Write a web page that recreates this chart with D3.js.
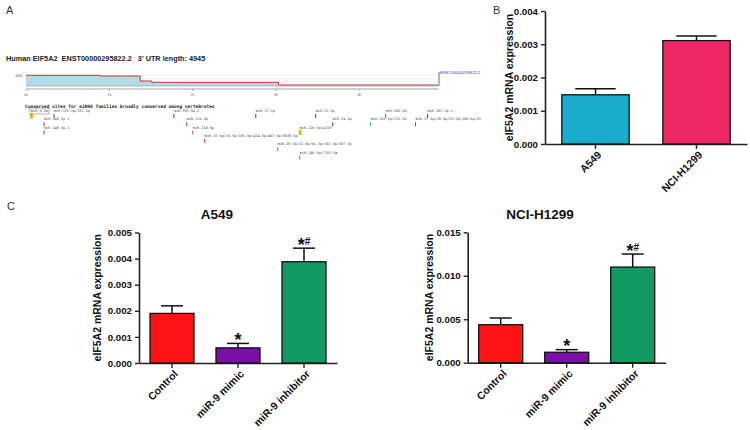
<!DOCTYPE html>
<html><head><meta charset="utf-8">
<script src="https://cdn.jsdelivr.net/npm/d3@7"></script>
<style>body{margin:0;background:#fff}svg{display:block}text{font-family:Arial,"Liberation Sans",sans-serif}</style>
</head><body><svg id="c" width="750" height="430"></svg>
<script>
// ---------- Panel A data (TargetScan-style 3'UTR view) ----------
const utrLength = 4945;
const utrPos = [0, 890, 1370, 1510, 3030, 4945];
const utrDepth = [443, 414, 207, 153, 41, 41];
const gridDepth = [443, 300, 150];
const utrTicks = [0, 1000, 2000, 3000, 4000];
const utrTickLabels = ["0k", "1k", "2k", "3k", "4k"];
const siteNames = ["miR-9-5p","miR-221-3p/222-3p","miR-140-3p.2","miR-140-3p.1","miR-383-5p.2","miR-216-5p","miR-218-5p","miR-15-5p/16-5p/195-5p/424-5p/497-5p/6838-5p","miR-27-3p","miR-25-3p/32-5p/92-3p/363-3p/367-3p","miR-129-5p/4319","miR-146-5p/7153-5p","miR-31-5p","miR-34-5p","miR-192-5p/215-5p","miR-182-5p","miR-17-5p/20-5p/93-5p/106-5p/51","miR-203-3p.1"];
const sitePos = [60, 336, 216, 216, 1775, 1930, 2002, 2146, 2758, 3022, 3285, 3285, 3477, 3681, 4137, 4317, 4676, 4820];
const siteRow = [0, 0, 1, 2, 0, 1, 2, 3, 0, 4, 2, 5, 0, 1, 1, 0, 1, 0];
const siteColor = ["#f2b705","#555","#d0203a","#d0203a","#8a1a7a","#8a1a7a","#b04aa0","#d0203a","#8a1a7a","#3a86c8","#f2b705","#5a8ac0","#8a1a7a","#8a1a7a","#2ab0c8","#d0303a","#d0203a","#8a1a7a"];

// ---------- Panel B data ----------
const cellLines = ["A549", "NCI-H1299"];
const baseExpr = [0.00148, 0.00311];
const baseErr = [0.00166, 0.00325];
const baseColors = ["#1aaccc", "#ee2864"];
const baseTicks = [0, 0.001, 0.002, 0.003, 0.004];

// ---------- Panel C data ----------
const groups = ["Control", "miR-9 mimic", "miR-9 inhibitor"];
const groupColors = ["#fe1414", "#7a10a8", "#119a62"];
const a549Expr = [0.0019, 0.00058, 0.00388];
const a549Err = [0.00219, 0.00075, 0.0044];
const a549Ticks = [0, 0.001, 0.002, 0.003, 0.004, 0.005];
const h1299Expr = [0.00437, 0.0012, 0.011];
const h1299Err = [0.00514, 0.0015, 0.0125];
const h1299Ticks = [0, 0.005, 0.010, 0.015];
const sigMarks = ["", "*", "*#"];

const MONO = "'DejaVu Sans Mono','Liberation Mono',monospace";
const svg = d3.select("#c");
svg.append("rect").attr("width",750).attr("height",430).attr("fill","#fff");

// panel letters
[["A",6,14],["B",493,14],["C",7,210]].forEach(([t,x,y])=>{
  svg.append("text").attr("x",x).attr("y",y).attr("font-size",11).attr("fill","#333").text(t);
});

// ---------- Panel A ----------
const ax = d3.scaleLinear().domain([0, utrLength]).range([26, 438]);
const ay = d3.scaleLinear().domain([0, 443]).range([86, 75.3]);
const gA = svg.append("g");
gA.append("text").attr("x",6).attr("y",61).attr("font-size",7.3).attr("font-weight","bold").attr("fill","#222")
  .attr("xml:space","preserve").text("Human EIF5A2  ENST00000295822.2   3' UTR length: 4945");
gridDepth.forEach(d=>{
  gA.append("line").attr("x1",ax(0)).attr("x2",ax(utrLength)).attr("y1",ay(d)).attr("y2",ay(d)).attr("stroke","#e2e2e2").attr("stroke-width",0.6);
});
const prof = utrPos.map((p,i)=>({p, d: utrDepth[i]}));
gA.append("path").datum(prof).attr("fill","#b3dbe6")
  .attr("d", d3.area().x(d=>ax(d.p)).y0(ay(0)).y1(d=>ay(d.d)).curve(d3.curveStepAfter));
gA.append("path").datum(prof).attr("fill","none").attr("stroke","#d0303a").attr("stroke-width",1)
  .attr("d", d3.line().x(d=>ax(d.p)).y(d=>ay(d.d)).curve(d3.curveStepAfter));
gA.append("line").attr("x1",ax(0)).attr("x2",ax(utrLength)).attr("y1",ay(0)).attr("y2",ay(0)).attr("stroke","#999").attr("stroke-width",0.6);
gA.append("text").attr("x",22).attr("y",ay(443)+1.5).attr("text-anchor","end").attr("font-size",4).attr("fill","#555").text("443");
gA.append("line").attr("x1",ax(utrLength)+1).attr("x2",ax(utrLength)+1).attr("y1",ay(0)).attr("y2",72).attr("stroke","#3a3ad0").attr("stroke-width",0.8);
gA.append("text").attr("x",ax(utrLength)+2).attr("y",73.5).attr("font-size",4.2).attr("fill","#3a3ad0").text("ENST00000295822.2");
// coordinate axis
const axisA = gA.append("g").attr("transform","translate(0,89)");
axisA.append("line").attr("x1",ax(0)).attr("x2",ax(utrLength)).attr("stroke","#888").attr("stroke-width",0.8);
utrTicks.forEach((t,i)=>{
  axisA.append("line").attr("x1",ax(t)).attr("x2",ax(t)).attr("y1",0).attr("y2",2).attr("stroke","#888").attr("stroke-width",0.6);
  axisA.append("text").attr("x",ax(t)).attr("y",6.5).attr("text-anchor","middle").attr("font-size",3.5).attr("fill","#666").text(utrTickLabels[i]);
});
// conserved sites
gA.append("text").attr("x",25).attr("y",107.5).attr("font-size",4.5).attr("font-weight","bold").style("font-family",MONO).attr("fill","#222")
  .text("Conserved sites for miRNA families broadly conserved among vertebrates");
const rowY = r => 112 + r*8.3;
siteNames.forEach((n,i)=>{
  const x = ax(sitePos[i]), y = rowY(siteRow[i]);
  const yellow = siteColor[i] === "#f2b705";
  if (yellow) {
    gA.append("rect").attr("x",x-1).attr("y",y+1.5).attr("width",3).attr("height",5).attr("fill",siteColor[i]);
  } else {
    gA.append("line").attr("x1",x).attr("x2",x).attr("y1",y+2).attr("y2",y+6).attr("stroke",siteColor[i]).attr("stroke-width",1);
  }
  gA.append("text").attr("x",x).attr("y",y).attr("font-size",3.5).style("font-family",MONO).attr("fill","#444").text(n);
  if (i===0) gA.append("rect").attr("x",x-1).attr("y",y-4).attr("width",19).attr("height",6).attr("fill","none").attr("stroke","#666").attr("stroke-width",0.5);
});

// ---------- Generic bar panel ----------
function barPanel(o){
  const g = svg.append("g");
  const x = d3.scaleBand().domain(o.cats).range(o.xr).paddingInner(1/3).paddingOuter(1/6);
  const y = d3.scaleLinear().domain(o.yd).range(o.yr);
  const yAx = g.append("g").attr("transform",`translate(${o.xr[0]},0)`)
    .call(d3.axisLeft(y).tickValues(o.ticks).tickFormat(d3.format(".3f")).tickSize(4).tickSizeOuter(0).tickPadding(3));
  const xAx = g.append("g").attr("transform",`translate(0,${o.yr[0]})`)
    .call(d3.axisBottom(x).tickSize(5).tickSizeOuter(0).tickFormat(""));
  [yAx,xAx].forEach(a=>{
    a.select(".domain").attr("stroke","#222").attr("stroke-width",1.6);
    a.selectAll(".tick line").attr("stroke","#222").attr("stroke-width",1.4);
  });
  yAx.selectAll("text").attr("font-size",9.7).attr("font-weight","bold").attr("fill","#111").attr("font-family","Arial,'Liberation Sans'");
  o.cats.forEach(c=>{
    g.append("text").attr("transform",`translate(${x(c)+x.bandwidth()/2+4},${o.yr[0]+9}) rotate(-45)`)
      .attr("text-anchor","end").attr("dy","0.35em").attr("font-size",10.5).attr("font-weight","bold").attr("fill","#111").text(c);
  });
  const bw = x.bandwidth();
  o.cats.forEach((c,i)=>{
    const cx = x(c)+bw/2;
    g.append("line").attr("x1",cx).attr("x2",cx).attr("y1",y(o.vals[i])).attr("y2",y(o.errs[i])).attr("stroke","#111").attr("stroke-width",1.5);
    g.append("line").attr("x1",cx-bw*o.cap/2).attr("x2",cx+bw*o.cap/2).attr("y1",y(o.errs[i])).attr("y2",y(o.errs[i])).attr("stroke","#111").attr("stroke-width",1.5);
    g.append("rect").attr("x",x(c)).attr("width",bw).attr("y",y(o.vals[i])).attr("height",y(0)-y(o.vals[i]))
      .attr("fill",o.colors[i]).attr("stroke","#111").attr("stroke-width",1.3);
    if (o.sig && o.sig[i]) {
      const t = g.append("text").attr("x",cx).attr("y",y(o.errs[i])+2.5).attr("text-anchor","middle").attr("font-weight","bold").attr("fill","#111");
      t.append("tspan").attr("font-size",18).text("*");
      if (o.sig[i].length>1) t.append("tspan").attr("font-size",10).attr("dy",-6).text("#");
    }
  });
  g.append("text").attr("transform",`translate(${o.labX},${(o.yr[0]+o.yr[1])/2}) rotate(-90)`)
    .attr("text-anchor","middle").attr("font-size",10.5).attr("font-weight","bold").attr("fill","#111").text("eIF5A2 mRNA expression");
  if (o.title) g.append("text").attr("x",o.titleX).attr("y",219).attr("text-anchor","middle").attr("font-size",13.5).attr("font-weight","bold").attr("fill","#111").text(o.title);
}

barPanel({cats:cellLines, vals:baseExpr, errs:baseErr, colors:baseColors, ticks:baseTicks, xr:[545,747], yd:[0,0.004], yr:[144,11], cap:0.6, labX:513, });
barPanel({cats:groups, vals:a549Expr, errs:a549Err, colors:groupColors, ticks:a549Ticks, xr:[139,337], yd:[0,0.005], yr:[363,232.5], cap:0.5, labX:101, sig:sigMarks, title:"A549", titleX:217});
barPanel({cats:groups, vals:h1299Expr, errs:h1299Err, colors:groupColors, ticks:h1299Ticks, xr:[467.7,665.7], yd:[0,0.015], yr:[362.7,232.3], cap:0.5, labX:433, sig:sigMarks, title:"NCI-H1299", titleX:540});
</script></body></html>
